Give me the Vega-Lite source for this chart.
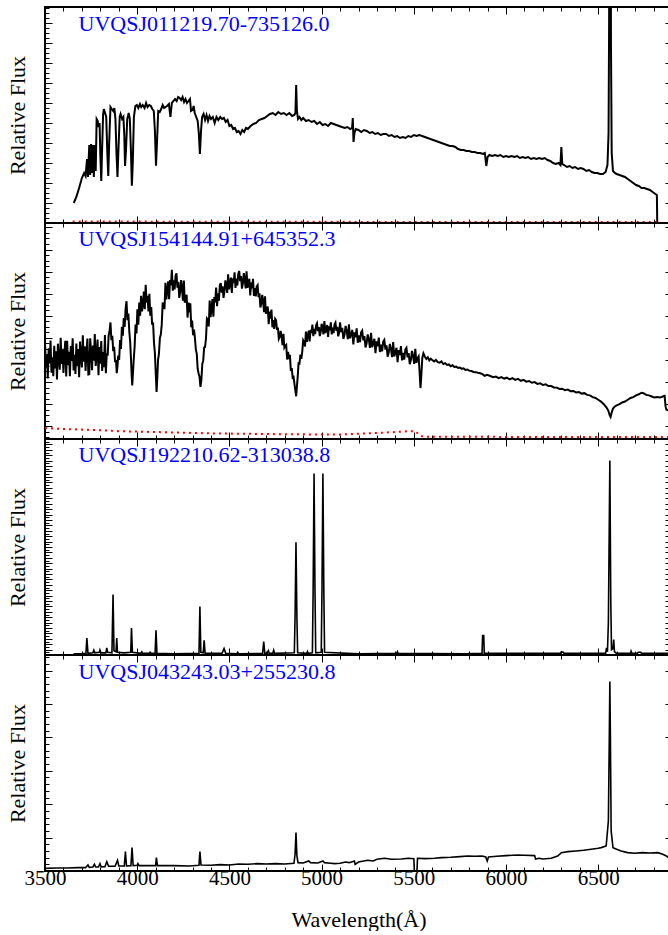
{
  "$schema": "https://vega.github.io/schema/vega-lite/v6.json",
  "padding": {"top": 5, "left": 5, "right": -4, "bottom": 0},
  "spacing": 0,
  "bounds": "flush",
  "config": {
    "view": {"stroke": "black", "strokeWidth": 2},
    "font": "Times New Roman, Liberation Serif, DejaVu Serif, serif",
    "axis": {"domain": false, "grid": false, "tickColor": "black", "tickWidth": 1, "labelFont": "Times New Roman, Liberation Serif, DejaVu Serif, serif", "titleFont": "Times New Roman, Liberation Serif, DejaVu Serif, serif", "labelFontSize": 21, "titleFontSize": 22, "titleFontWeight": "normal", "labelColor": "black", "titleColor": "black", "labelFlush": false, "labelBound": false, "labelOverlap": false}
  },
  "datasets": {
    "p1": [
      {"wavelength":3656,"flux":1.0},{"wavelength":3670,"flux":1.3},{"wavelength":3685,"flux":1.75},{"wavelength":3700,"flux":2.25},{"wavelength":3712,"flux":2.5},{"wavelength":3720,"flux":2.35},{"wavelength":3728,"flux":3.2},{"wavelength":3733,"flux":2.3},{"wavelength":3740,"flux":3.9},{"wavelength":3745,"flux":2.4},{"wavelength":3750,"flux":3.95},{"wavelength":3755,"flux":2.5},{"wavelength":3760,"flux":3.9},{"wavelength":3765,"flux":2.3},{"wavelength":3770,"flux":3.9},{"wavelength":3775,"flux":2.6},{"wavelength":3780,"flux":5.2},{"wavelength":3786,"flux":5.1},{"wavelength":3790,"flux":4.8},{"wavelength":3796,"flux":5.0},{"wavelength":3800,"flux":3.4},{"wavelength":3805,"flux":2.1},{"wavelength":3810,"flux":3.8},{"wavelength":3815,"flux":5.4},{"wavelength":3819,"flux":5.7},{"wavelength":3826,"flux":5.5},{"wavelength":3832,"flux":5.3},{"wavelength":3838,"flux":3.5},{"wavelength":3843,"flux":2.35},{"wavelength":3848,"flux":4.0},{"wavelength":3855,"flux":5.8},{"wavelength":3862,"flux":5.7},{"wavelength":3870,"flux":5.6},{"wavelength":3876,"flux":5.75},{"wavelength":3882,"flux":5.2},{"wavelength":3888,"flux":3.4},{"wavelength":3893,"flux":2.3},{"wavelength":3898,"flux":3.6},{"wavelength":3905,"flux":5.3},{"wavelength":3910,"flux":5.45},{"wavelength":3918,"flux":5.2},{"wavelength":3925,"flux":5.3},{"wavelength":3930,"flux":4.4},{"wavelength":3934,"flux":2.85},{"wavelength":3939,"flux":3.6},{"wavelength":3946,"flux":5.2},{"wavelength":3954,"flux":5.5},{"wavelength":3960,"flux":5.2},{"wavelength":3966,"flux":3.6},{"wavelength":3971,"flux":1.87},{"wavelength":3976,"flux":3.0},{"wavelength":3982,"flux":5.3},{"wavelength":3990,"flux":5.85},{"wavelength":3998,"flux":5.9},{"wavelength":4006,"flux":5.75},{"wavelength":4015,"flux":5.95},{"wavelength":4022,"flux":5.8},{"wavelength":4030,"flux":5.9},{"wavelength":4040,"flux":5.75},{"wavelength":4048,"flux":6.0},{"wavelength":4056,"flux":5.8},{"wavelength":4065,"flux":5.9},{"wavelength":4074,"flux":5.85},{"wavelength":4082,"flux":5.7},{"wavelength":4090,"flux":5.6},{"wavelength":4096,"flux":4.6},{"wavelength":4102,"flux":2.87},{"wavelength":4108,"flux":4.2},{"wavelength":4114,"flux":5.6},{"wavelength":4122,"flux":5.55},{"wavelength":4130,"flux":5.7},{"wavelength":4138,"flux":5.9},{"wavelength":4146,"flux":5.75},{"wavelength":4154,"flux":5.8},{"wavelength":4162,"flux":5.85},{"wavelength":4172,"flux":5.95},{"wavelength":4180,"flux":5.3},{"wavelength":4188,"flux":6.0},{"wavelength":4196,"flux":6.1},{"wavelength":4205,"flux":6.2},{"wavelength":4214,"flux":6.1},{"wavelength":4222,"flux":6.3},{"wavelength":4230,"flux":6.25},{"wavelength":4238,"flux":6.15},{"wavelength":4246,"flux":6.3},{"wavelength":4254,"flux":6.05},{"wavelength":4262,"flux":6.2},{"wavelength":4270,"flux":6.0},{"wavelength":4278,"flux":6.1},{"wavelength":4286,"flux":6.2},{"wavelength":4292,"flux":5.6},{"wavelength":4300,"flux":5.65},{"wavelength":4306,"flux":5.85},{"wavelength":4312,"flux":5.5},{"wavelength":4320,"flux":5.3},{"wavelength":4328,"flux":5.1},{"wavelength":4334,"flux":4.5},{"wavelength":4340,"flux":3.45},{"wavelength":4346,"flux":4.6},{"wavelength":4352,"flux":5.3},{"wavelength":4360,"flux":5.45},{"wavelength":4368,"flux":5.15},{"wavelength":4376,"flux":5.4},{"wavelength":4384,"flux":5.1},{"wavelength":4392,"flux":5.35},{"wavelength":4400,"flux":5.2},{"wavelength":4410,"flux":5.3},{"wavelength":4420,"flux":5.0},{"wavelength":4430,"flux":5.3},{"wavelength":4440,"flux":5.15},{"wavelength":4450,"flux":5.3},{"wavelength":4460,"flux":5.2},{"wavelength":4470,"flux":5.25},{"wavelength":4480,"flux":5.05},{"wavelength":4490,"flux":5.15},{"wavelength":4500,"flux":4.85},{"wavelength":4510,"flux":4.9},{"wavelength":4520,"flux":4.7},{"wavelength":4530,"flux":4.75},{"wavelength":4540,"flux":4.55},{"wavelength":4550,"flux":4.6},{"wavelength":4560,"flux":4.45},{"wavelength":4570,"flux":4.65},{"wavelength":4580,"flux":4.55},{"wavelength":4590,"flux":4.75},{"wavelength":4600,"flux":4.7},{"wavelength":4615,"flux":4.85},{"wavelength":4630,"flux":4.95},{"wavelength":4645,"flux":5.0},{"wavelength":4660,"flux":5.15},{"wavelength":4675,"flux":5.2},{"wavelength":4690,"flux":5.25},{"wavelength":4705,"flux":5.35},{"wavelength":4720,"flux":5.45},{"wavelength":4735,"flux":5.5},{"wavelength":4750,"flux":5.4},{"wavelength":4765,"flux":5.55},{"wavelength":4780,"flux":5.45},{"wavelength":4795,"flux":5.5},{"wavelength":4810,"flux":5.4},{"wavelength":4825,"flux":5.5},{"wavelength":4840,"flux":5.35},{"wavelength":4852,"flux":5.4},{"wavelength":4858,"flux":5.5},{"wavelength":4862,"flux":6.9},{"wavelength":4866,"flux":5.6},{"wavelength":4872,"flux":5.2},{"wavelength":4880,"flux":5.3},{"wavelength":4890,"flux":5.15},{"wavelength":4900,"flux":5.25},{"wavelength":4915,"flux":5.1},{"wavelength":4930,"flux":5.15},{"wavelength":4945,"flux":5.05},{"wavelength":4960,"flux":5.1},{"wavelength":4975,"flux":4.95},{"wavelength":4990,"flux":5.05},{"wavelength":5005,"flux":4.9},{"wavelength":5020,"flux":4.95},{"wavelength":5035,"flux":4.85},{"wavelength":5050,"flux":5.0},{"wavelength":5065,"flux":4.95},{"wavelength":5080,"flux":4.9},{"wavelength":5095,"flux":4.85},{"wavelength":5110,"flux":4.8},{"wavelength":5125,"flux":4.75},{"wavelength":5140,"flux":4.8},{"wavelength":5155,"flux":4.7},{"wavelength":5165,"flux":4.75},{"wavelength":5169,"flux":5.25},{"wavelength":5173,"flux":4.05},{"wavelength":5178,"flux":4.5},{"wavelength":5185,"flux":4.7},{"wavelength":5200,"flux":4.65},{"wavelength":5215,"flux":4.55},{"wavelength":5230,"flux":4.65},{"wavelength":5245,"flux":4.6},{"wavelength":5260,"flux":4.5},{"wavelength":5275,"flux":4.55},{"wavelength":5290,"flux":4.45},{"wavelength":5305,"flux":4.5},{"wavelength":5320,"flux":4.4},{"wavelength":5335,"flux":4.45},{"wavelength":5350,"flux":4.45},{"wavelength":5365,"flux":4.35},{"wavelength":5380,"flux":4.4},{"wavelength":5395,"flux":4.3},{"wavelength":5410,"flux":4.35},{"wavelength":5425,"flux":4.25},{"wavelength":5440,"flux":4.3},{"wavelength":5455,"flux":4.25},{"wavelength":5470,"flux":4.35},{"wavelength":5485,"flux":4.3},{"wavelength":5500,"flux":4.4},{"wavelength":5515,"flux":4.35},{"wavelength":5530,"flux":4.4},{"wavelength":5545,"flux":4.35},{"wavelength":5560,"flux":4.3},{"wavelength":5575,"flux":4.25},{"wavelength":5590,"flux":4.2},{"wavelength":5605,"flux":4.15},{"wavelength":5620,"flux":4.1},{"wavelength":5635,"flux":4.05},{"wavelength":5650,"flux":4.0},{"wavelength":5665,"flux":3.95},{"wavelength":5680,"flux":3.9},{"wavelength":5695,"flux":3.85},{"wavelength":5710,"flux":3.85},{"wavelength":5725,"flux":3.8},{"wavelength":5740,"flux":3.7},{"wavelength":5755,"flux":3.65},{"wavelength":5770,"flux":3.65},{"wavelength":5785,"flux":3.6},{"wavelength":5800,"flux":3.6},{"wavelength":5815,"flux":3.55},{"wavelength":5830,"flux":3.55},{"wavelength":5845,"flux":3.5},{"wavelength":5860,"flux":3.5},{"wavelength":5875,"flux":3.45},{"wavelength":5885,"flux":3.5},{"wavelength":5893,"flux":2.85},{"wavelength":5900,"flux":3.3},{"wavelength":5910,"flux":3.4},{"wavelength":5925,"flux":3.35},{"wavelength":5940,"flux":3.4},{"wavelength":5955,"flux":3.35},{"wavelength":5970,"flux":3.4},{"wavelength":5985,"flux":3.3},{"wavelength":6000,"flux":3.35},{"wavelength":6015,"flux":3.3},{"wavelength":6030,"flux":3.35},{"wavelength":6045,"flux":3.3},{"wavelength":6060,"flux":3.35},{"wavelength":6075,"flux":3.25},{"wavelength":6090,"flux":3.3},{"wavelength":6105,"flux":3.25},{"wavelength":6120,"flux":3.3},{"wavelength":6135,"flux":3.2},{"wavelength":6150,"flux":3.25},{"wavelength":6165,"flux":3.2},{"wavelength":6180,"flux":3.25},{"wavelength":6195,"flux":3.2},{"wavelength":6210,"flux":3.25},{"wavelength":6225,"flux":3.15},{"wavelength":6240,"flux":3.1},{"wavelength":6255,"flux":3.0},{"wavelength":6270,"flux":2.95},{"wavelength":6285,"flux":3.0},{"wavelength":6295,"flux":2.9},{"wavelength":6300,"flux":3.8},{"wavelength":6305,"flux":2.95},{"wavelength":6315,"flux":2.9},{"wavelength":6330,"flux":2.8},{"wavelength":6345,"flux":2.85},{"wavelength":6360,"flux":2.75},{"wavelength":6375,"flux":2.8},{"wavelength":6390,"flux":2.7},{"wavelength":6405,"flux":2.75},{"wavelength":6420,"flux":2.7},{"wavelength":6435,"flux":2.6},{"wavelength":6450,"flux":2.65},{"wavelength":6465,"flux":2.55},{"wavelength":6480,"flux":2.5},{"wavelength":6495,"flux":2.5},{"wavelength":6510,"flux":2.45},{"wavelength":6525,"flux":2.45},{"wavelength":6540,"flux":2.55},{"wavelength":6550,"flux":2.9},{"wavelength":6556,"flux":4.5},{"wavelength":6559,"flux":10},{"wavelength":6561,"flux":30},{"wavelength":6566,"flux":30},{"wavelength":6569,"flux":9},{"wavelength":6573,"flux":3.5},{"wavelength":6580,"flux":2.6},{"wavelength":6590,"flux":2.5},{"wavelength":6600,"flux":2.45},{"wavelength":6615,"flux":2.4},{"wavelength":6630,"flux":2.35},{"wavelength":6645,"flux":2.3},{"wavelength":6660,"flux":2.2},{"wavelength":6675,"flux":2.1},{"wavelength":6690,"flux":2.0},{"wavelength":6705,"flux":1.9},{"wavelength":6720,"flux":1.85},{"wavelength":6735,"flux":1.75},{"wavelength":6750,"flux":1.75},{"wavelength":6765,"flux":1.7},{"wavelength":6780,"flux":1.65},{"wavelength":6795,"flux":1.55},{"wavelength":6810,"flux":1.45},{"wavelength":6818,"flux":1.4},{"wavelength":6820,"flux":0}
    ],
    "p1e": [
      {"wavelength":3650,"flux":0.08},{"wavelength":4000,"flux":0.07},{"wavelength":4500,"flux":0.06},{"wavelength":5000,"flux":0.06},{"wavelength":5500,"flux":0.05},{"wavelength":6000,"flux":0.05},{"wavelength":6500,"flux":0.05},{"wavelength":6820,"flux":0.05}
    ],
    "p2": [
      {"wavelength":3500,"flux":3.77},{"wavelength":3505,"flux":2.66},{"wavelength":3510,"flux":3.27},{"wavelength":3515,"flux":2.16},{"wavelength":3520,"flux":3.53},{"wavelength":3525,"flux":2.85},{"wavelength":3530,"flux":3.88},{"wavelength":3535,"flux":2.43},{"wavelength":3540,"flux":3.12},{"wavelength":3545,"flux":2.27},{"wavelength":3550,"flux":3.64},{"wavelength":3555,"flux":2.62},{"wavelength":3560,"flux":3.39},{"wavelength":3565,"flux":2.12},{"wavelength":3570,"flux":3.74},{"wavelength":3575,"flux":3.07},{"wavelength":3580,"flux":2.56},{"wavelength":3585,"flux":4.01},{"wavelength":3590,"flux":2.82},{"wavelength":3595,"flux":3.51},{"wavelength":3600,"flux":2.41},{"wavelength":3605,"flux":3.26},{"wavelength":3610,"flux":3.87},{"wavelength":3615,"flux":2.25},{"wavelength":3620,"flux":3.87},{"wavelength":3625,"flux":2.77},{"wavelength":3630,"flux":3.37},{"wavelength":3635,"flux":2.27},{"wavelength":3640,"flux":3.63},{"wavelength":3645,"flux":2.96},{"wavelength":3650,"flux":3.98},{"wavelength":3655,"flux":2.53},{"wavelength":3660,"flux":3.23},{"wavelength":3665,"flux":2.37},{"wavelength":3670,"flux":3.75},{"wavelength":3675,"flux":2.72},{"wavelength":3680,"flux":3.5},{"wavelength":3685,"flux":2.22},{"wavelength":3690,"flux":3.84},{"wavelength":3695,"flux":3.17},{"wavelength":3700,"flux":2.66},{"wavelength":3705,"flux":4.12},{"wavelength":3710,"flux":2.92},{"wavelength":3715,"flux":3.62},{"wavelength":3720,"flux":2.51},{"wavelength":3725,"flux":3.37},{"wavelength":3730,"flux":3.97},{"wavelength":3735,"flux":2.35},{"wavelength":3740,"flux":2.36},{"wavelength":3745,"flux":3.98},{"wavelength":3750,"flux":3.39},{"wavelength":3755,"flux":2.54},{"wavelength":3760,"flux":3.65},{"wavelength":3765,"flux":2.97},{"wavelength":3770,"flux":4.17},{"wavelength":3775,"flux":2.73},{"wavelength":3780,"flux":3.24},{"wavelength":3785,"flux":3.93},{"wavelength":3790,"flux":2.31},{"wavelength":3795,"flux":3.59},{"wavelength":3800,"flux":2.83},{"wavelength":3805,"flux":3.86},{"wavelength":3810,"flux":2.5},{"wavelength":3815,"flux":3.36},{"wavelength":3820,"flux":2.68},{"wavelength":3825,"flux":4.13},{"wavelength":3830,"flux":2.4},{"wavelength":3835,"flux":3.3},{"wavelength":3840,"flux":3.2},{"wavelength":3845,"flux":4.1},
      {"wavelength":3850,"flux":4.3},{"wavelength":3855,"flux":4.7},{"wavelength":3860,"flux":3.9},{"wavelength":3865,"flux":4.1},{"wavelength":3870,"flux":3.4},{"wavelength":3875,"flux":3.6},{"wavelength":3880,"flux":2.9},{"wavelength":3885,"flux":3.0},{"wavelength":3889,"flux":2.4},{"wavelength":3893,"flux":2.7},{"wavelength":3897,"flux":3.2},{"wavelength":3902,"flux":3.0},{"wavelength":3907,"flux":3.9},{"wavelength":3912,"flux":3.5},{"wavelength":3917,"flux":4.5},{"wavelength":3922,"flux":4.1},{"wavelength":3927,"flux":4.9},{"wavelength":3932,"flux":4.5},{"wavelength":3937,"flux":5.3},{"wavelength":3942,"flux":5.66},{"wavelength":3947,"flux":4.8},{"wavelength":3952,"flux":5.1},{"wavelength":3957,"flux":4.3},{"wavelength":3962,"flux":3.8},{"wavelength":3966,"flux":3.1},{"wavelength":3970,"flux":2.3},{"wavelength":3973,"flux":1.85},{"wavelength":3977,"flux":2.4},{"wavelength":3981,"flux":3.0},{"wavelength":3986,"flux":3.6},{"wavelength":3991,"flux":4.6},{"wavelength":3996,"flux":4.2},{"wavelength":4001,"flux":5.3},{"wavelength":4006,"flux":4.6},{"wavelength":4011,"flux":5.6},{"wavelength":4016,"flux":5.0},{"wavelength":4021,"flux":5.9},{"wavelength":4026,"flux":5.2},{"wavelength":4031,"flux":5.5},{"wavelength":4036,"flux":6.1},{"wavelength":4041,"flux":5.3},{"wavelength":4046,"flux":6.4},{"wavelength":4051,"flux":5.6},{"wavelength":4056,"flux":5.9},{"wavelength":4061,"flux":5.2},{"wavelength":4066,"flux":6.0},{"wavelength":4071,"flux":5.0},{"wavelength":4076,"flux":5.4},{"wavelength":4081,"flux":4.6},{"wavelength":4086,"flux":4.7},{"wavelength":4091,"flux":3.8},{"wavelength":4096,"flux":3.3},{"wavelength":4100,"flux":2.5},{"wavelength":4105,"flux":1.55},{"wavelength":4109,"flux":2.2},
      {"wavelength":4113,"flux":3.0},{"wavelength":4118,"flux":3.3},{"wavelength":4123,"flux":4.0},{"wavelength":4128,"flux":4.15},{"wavelength":4133,"flux":4.6},{"wavelength":4138,"flux":5.56},{"wavelength":4143,"flux":5.55},{"wavelength":4148,"flux":5.3},{"wavelength":4153,"flux":6.49},{"wavelength":4158,"flux":5.74},{"wavelength":4163,"flux":6.16},{"wavelength":4168,"flux":6.56},{"wavelength":4173,"flux":5.75},{"wavelength":4178,"flux":6.62},{"wavelength":4183,"flux":6.38},{"wavelength":4188,"flux":7.08},{"wavelength":4193,"flux":6.14},{"wavelength":4198,"flux":6.61},{"wavelength":4203,"flux":6.19},{"wavelength":4208,"flux":6.81},{"wavelength":4213,"flux":6.92},{"wavelength":4218,"flux":6.27},{"wavelength":4223,"flux":6.54},{"wavelength":4228,"flux":5.81},{"wavelength":4233,"flux":6.07},{"wavelength":4238,"flux":6.62},{"wavelength":4243,"flux":6.26},{"wavelength":4248,"flux":5.68},{"wavelength":4253,"flux":6.6},{"wavelength":4258,"flux":5.59},{"wavelength":4263,"flux":5.78},{"wavelength":4268,"flux":5.95},{"wavelength":4273,"flux":4.92},{"wavelength":4278,"flux":5.6},{"wavelength":4283,"flux":5.15},{"wavelength":4288,"flux":5.57},{"wavelength":4293,"flux":4.48},{"wavelength":4298,"flux":4.78},{"wavelength":4303,"flux":4.12},{"wavelength":4308,"flux":4.37},{"wavelength":4313,"flux":4.0},{"wavelength":4318,"flux":3.47},{"wavelength":4323,"flux":3.29},{"wavelength":4328,"flux":2.59},{"wavelength":4333,"flux":2.39},{"wavelength":4338,"flux":2.24},{"wavelength":4343,"flux":1.78},{"wavelength":4348,"flux":2.1},{"wavelength":4353,"flux":2.82},{"wavelength":4358,"flux":2.97},{"wavelength":4363,"flux":3.57},{"wavelength":4368,"flux":3.59},{"wavelength":4373,"flux":3.98},{"wavelength":4378,"flux":4.88},{"wavelength":4383,"flux":4.82},{"wavelength":4388,"flux":4.52},{"wavelength":4393,"flux":5.69},{"wavelength":4398,"flux":4.94},{"wavelength":4403,"flux":5.35},{"wavelength":4408,"flux":5.76},{"wavelength":4413,"flux":4.96},{"wavelength":4418,"flux":5.85},{"wavelength":4423,"flux":5.61},{"wavelength":4428,"flux":6.28},{"wavelength":4433,"flux":5.44},{"wavelength":4438,"flux":6.02},{"wavelength":4443,"flux":5.68},{"wavelength":4448,"flux":6.38},{"wavelength":4453,"flux":6.48},{"wavelength":4458,"flux":6.05},{"wavelength":4463,"flux":6.33},{"wavelength":4468,"flux":5.81},{"wavelength":4473,"flux":6.09},{"wavelength":4478,"flux":6.6},{"wavelength":4483,"flux":6.4},{"wavelength":4488,"flux":6.04},{"wavelength":4493,"flux":6.88},{"wavelength":4498,"flux":6.2},{"wavelength":4503,"flux":6.47},{"wavelength":4508,"flux":6.73},{"wavelength":4513,"flux":6.04},{"wavelength":4518,"flux":6.7},{"wavelength":4523,"flux":6.48},{"wavelength":4528,"flux":6.97},{"wavelength":4533,"flux":6.26},{"wavelength":4538,"flux":6.68},{"wavelength":4543,"flux":6.37},{"wavelength":4548,"flux":6.9},{"wavelength":4553,"flux":7.03},{"wavelength":4558,"flux":6.57},{"wavelength":4563,"flux":6.8},{"wavelength":4568,"flux":6.23},{"wavelength":4573,"flux":6.46},{"wavelength":4578,"flux":6.93},{"wavelength":4583,"flux":6.66},{"wavelength":4588,"flux":6.24},{"wavelength":4593,"flux":7.01},{"wavelength":4598,"flux":6.27},{"wavelength":4603,"flux":6.48},{"wavelength":4608,"flux":6.68},{"wavelength":4613,"flux":5.92},{"wavelength":4618,"flux":6.52},{"wavelength":4623,"flux":6.24},{"wavelength":4628,"flux":6.67},{"wavelength":4633,"flux":5.9},{"wavelength":4638,"flux":6.25},{"wavelength":4643,"flux":5.88},{"wavelength":4648,"flux":6.33},{"wavelength":4653,"flux":6.39},{"wavelength":4658,"flux":5.84},{"wavelength":4663,"flux":6.02},{"wavelength":4668,"flux":5.38},{"wavelength":4673,"flux":5.54},{"wavelength":4678,"flux":5.95},{"wavelength":4683,"flux":5.63},{"wavelength":4688,"flux":5.16},{"wavelength":4693,"flux":5.88},{"wavelength":4698,"flux":5.09},{"wavelength":4703,"flux":5.25},{"wavelength":4708,"flux":5.42},{"wavelength":4713,"flux":4.62},{"wavelength":4718,"flux":5.19},{"wavelength":4723,"flux":4.87},{"wavelength":4728,"flux":5.28},{"wavelength":4733,"flux":4.48},{"wavelength":4738,"flux":4.81},{"wavelength":4743,"flux":4.41},{"wavelength":4748,"flux":4.86},{"wavelength":4753,"flux":4.8},{"wavelength":4758,"flux":4.36},{"wavelength":4763,"flux":4.47},{"wavelength":4768,"flux":3.96},{"wavelength":4773,"flux":4.05},{"wavelength":4778,"flux":4.32},{"wavelength":4783,"flux":4.06},{"wavelength":4788,"flux":3.67},{"wavelength":4793,"flux":4.18},{"wavelength":4798,"flux":3.56},{"wavelength":4803,"flux":3.63},{"wavelength":4808,"flux":3.68},{"wavelength":4813,"flux":3.02},{"wavelength":4818,"flux":3.37},{"wavelength":4823,"flux":3.04},{"wavelength":4828,"flux":3.23},{"wavelength":4833,"flux":2.51},{"wavelength":4838,"flux":2.63},{"wavelength":4843,"flux":2.2},{"wavelength":4848,"flux":2.23},{"wavelength":4853,"flux":1.9},{"wavelength":4857,"flux":1.65},{"wavelength":4862,"flux":1.36},
      {"wavelength":4866,"flux":1.8},{"wavelength":4870,"flux":2.2},{"wavelength":4875,"flux":2.85},{"wavelength":4880,"flux":2.84},{"wavelength":4885,"flux":3.24},{"wavelength":4890,"flux":3.05},{"wavelength":4895,"flux":3.38},{"wavelength":4900,"flux":3.89},{"wavelength":4905,"flux":3.81},{"wavelength":4910,"flux":3.61},{"wavelength":4915,"flux":4.29},{"wavelength":4920,"flux":3.82},{"wavelength":4925,"flux":4.08},{"wavelength":4930,"flux":4.33},{"wavelength":4935,"flux":3.84},{"wavelength":4940,"flux":4.37},{"wavelength":4945,"flux":4.22},{"wavelength":4950,"flux":4.6},{"wavelength":4955,"flux":4.08},{"wavelength":4960,"flux":4.41},{"wavelength":4965,"flux":4.17},{"wavelength":4970,"flux":4.57},{"wavelength":4975,"flux":4.66},{"wavelength":4980,"flux":4.31},{"wavelength":4985,"flux":4.49},{"wavelength":4990,"flux":4.08},{"wavelength":4995,"flux":4.26},{"wavelength":5000,"flux":4.64},{"wavelength":5005,"flux":4.46},{"wavelength":5010,"flux":4.16},{"wavelength":5015,"flux":4.76},{"wavelength":5020,"flux":4.22},{"wavelength":5025,"flux":4.4},{"wavelength":5030,"flux":4.58},{"wavelength":5035,"flux":4.04},{"wavelength":5040,"flux":4.52},{"wavelength":5045,"flux":4.34},{"wavelength":5050,"flux":4.7},{"wavelength":5055,"flux":4.16},{"wavelength":5060,"flux":4.46},{"wavelength":5065,"flux":4.22},{"wavelength":5070,"flux":4.61},{"wavelength":5075,"flux":4.69},{"wavelength":5080,"flux":4.32},{"wavelength":5085,"flux":4.5},{"wavelength":5090,"flux":4.07},{"wavelength":5095,"flux":4.24},
      {"wavelength":5100,"flux":4.7},{"wavelength":5106,"flux":4.26},{"wavelength":5112,"flux":4.45},{"wavelength":5118,"flux":3.95},{"wavelength":5124,"flux":4.14},{"wavelength":5130,"flux":4.54},{"wavelength":5136,"flux":4.31},{"wavelength":5142,"flux":3.94},{"wavelength":5148,"flux":4.62},{"wavelength":5154,"flux":3.98},{"wavelength":5160,"flux":4.17},{"wavelength":5166,"flux":4.36},{"wavelength":5172,"flux":3.71},{"wavelength":5178,"flux":4.25},{"wavelength":5184,"flux":4.03},{"wavelength":5190,"flux":4.43},{"wavelength":5196,"flux":3.78},{"wavelength":5202,"flux":4.11},{"wavelength":5208,"flux":3.81},{"wavelength":5214,"flux":4.25},{"wavelength":5220,"flux":4.33},{"wavelength":5226,"flux":3.89},{"wavelength":5232,"flux":4.08},{"wavelength":5238,"flux":3.57},{"wavelength":5244,"flux":3.76},{"wavelength":5250,"flux":4.16},{"wavelength":5256,"flux":3.93},{"wavelength":5262,"flux":3.55},{"wavelength":5268,"flux":4.23},{"wavelength":5274,"flux":3.58},{"wavelength":5280,"flux":3.77},{"wavelength":5286,"flux":3.96},{"wavelength":5292,"flux":3.31},{"wavelength":5298,"flux":3.85},{"wavelength":5304,"flux":3.62},{"wavelength":5310,"flux":4.01},{"wavelength":5316,"flux":3.36},{"wavelength":5322,"flux":3.69},{"wavelength":5328,"flux":3.39},{"wavelength":5334,"flux":3.83},{"wavelength":5340,"flux":3.91},{"wavelength":5346,"flux":3.47},{"wavelength":5352,"flux":3.66},{"wavelength":5358,"flux":3.15},{"wavelength":5364,"flux":3.34},{"wavelength":5370,"flux":3.73},{"wavelength":5376,"flux":3.5},{"wavelength":5382,"flux":3.13},{"wavelength":5388,"flux":3.81},{"wavelength":5394,"flux":3.16},{"wavelength":5400,"flux":3.35},{"wavelength":5406,"flux":3.55},{"wavelength":5412,"flux":2.9},{"wavelength":5418,"flux":3.45},{"wavelength":5424,"flux":3.22},{"wavelength":5430,"flux":3.63},{"wavelength":5436,"flux":2.98},{"wavelength":5442,"flux":3.32},{"wavelength":5448,"flux":3.02},{"wavelength":5454,"flux":3.47},{"wavelength":5460,"flux":3.55},{"wavelength":5466,"flux":3.12},{"wavelength":5472,"flux":3.31},{"wavelength":5478,"flux":2.81},{"wavelength":5484,"flux":3.0},{"wavelength":5490,"flux":3.41},{"wavelength":5496,"flux":3.18},{"wavelength":5502,"flux":2.82},{"wavelength":5508,"flux":3.51},{"wavelength":5514,"flux":2.87},{"wavelength":5520,"flux":3.07},{"wavelength":5526,"flux":3.16},{"wavelength":5531,"flux":2.5},{"wavelength":5536,"flux":1.73},{"wavelength":5540,"flux":2.2},{"wavelength":5546,"flux":3.1},{"wavelength":5552,"flux":3.3},
      {"wavelength":5560,"flux":3.15},{"wavelength":5568,"flux":3.05},{"wavelength":5576,"flux":3.12},{"wavelength":5584,"flux":2.98},{"wavelength":5592,"flux":3.06},{"wavelength":5600,"flux":3.0},{"wavelength":5610,"flux":2.93},{"wavelength":5620,"flux":3.0},{"wavelength":5630,"flux":2.9},{"wavelength":5640,"flux":2.88},{"wavelength":5650,"flux":2.94},{"wavelength":5660,"flux":2.82},{"wavelength":5670,"flux":2.86},{"wavelength":5680,"flux":2.78},{"wavelength":5690,"flux":2.8},{"wavelength":5700,"flux":2.72},{"wavelength":5710,"flux":2.76},{"wavelength":5720,"flux":2.68},{"wavelength":5730,"flux":2.7},{"wavelength":5740,"flux":2.64},{"wavelength":5750,"flux":2.66},{"wavelength":5760,"flux":2.6},{"wavelength":5770,"flux":2.62},{"wavelength":5780,"flux":2.55},{"wavelength":5790,"flux":2.57},{"wavelength":5800,"flux":2.52},{"wavelength":5812,"flux":2.5},{"wavelength":5824,"flux":2.46},{"wavelength":5836,"flux":2.45},{"wavelength":5848,"flux":2.42},{"wavelength":5860,"flux":2.4},{"wavelength":5872,"flux":2.36},{"wavelength":5884,"flux":2.28},{"wavelength":5896,"flux":2.33},{"wavelength":5908,"flux":2.3},{"wavelength":5930,"flux":2.22},{"wavelength":5945,"flux":2.25},{"wavelength":5960,"flux":2.18},{"wavelength":5975,"flux":2.23},{"wavelength":5990,"flux":2.16},{"wavelength":6005,"flux":2.2},{"wavelength":6020,"flux":2.12},{"wavelength":6035,"flux":2.18},{"wavelength":6050,"flux":2.1},{"wavelength":6065,"flux":2.15},{"wavelength":6080,"flux":2.06},{"wavelength":6095,"flux":2.1},{"wavelength":6110,"flux":2.02},{"wavelength":6125,"flux":2.05},{"wavelength":6140,"flux":1.97},{"wavelength":6155,"flux":2.0},{"wavelength":6170,"flux":1.92},{"wavelength":6185,"flux":1.95},{"wavelength":6200,"flux":1.87},{"wavelength":6215,"flux":1.9},{"wavelength":6230,"flux":1.82},{"wavelength":6245,"flux":1.82},{"wavelength":6260,"flux":1.76},{"wavelength":6275,"flux":1.75},{"wavelength":6290,"flux":1.69},{"wavelength":6305,"flux":1.7},{"wavelength":6320,"flux":1.63},{"wavelength":6335,"flux":1.66},{"wavelength":6350,"flux":1.59},{"wavelength":6365,"flux":1.6},{"wavelength":6380,"flux":1.53},{"wavelength":6395,"flux":1.55},{"wavelength":6410,"flux":1.48},{"wavelength":6425,"flux":1.5},{"wavelength":6440,"flux":1.42},{"wavelength":6455,"flux":1.4},{"wavelength":6470,"flux":1.32},{"wavelength":6485,"flux":1.28},{"wavelength":6500,"flux":1.2},{"wavelength":6515,"flux":1.12},{"wavelength":6530,"flux":1.0},{"wavelength":6545,"flux":0.85},{"wavelength":6555,"flux":0.7},{"wavelength":6562,"flux":0.5},{"wavelength":6567,"flux":0.42},{"wavelength":6572,"flux":0.6},{"wavelength":6580,"flux":0.8},{"wavelength":6590,"flux":0.9},{"wavelength":6600,"flux":0.95},{"wavelength":6615,"flux":1.0},{"wavelength":6630,"flux":1.08},{"wavelength":6645,"flux":1.12},{"wavelength":6660,"flux":1.2},{"wavelength":6675,"flux":1.28},{"wavelength":6690,"flux":1.32},{"wavelength":6705,"flux":1.4},{"wavelength":6720,"flux":1.45},{"wavelength":6735,"flux":1.52},{"wavelength":6745,"flux":1.5},{"wavelength":6760,"flux":1.42},{"wavelength":6775,"flux":1.4},{"wavelength":6790,"flux":1.35},{"wavelength":6805,"flux":1.3},{"wavelength":6820,"flux":1.32},{"wavelength":6835,"flux":1.3},{"wavelength":6850,"flux":1.35},{"wavelength":6860,"flux":1.38},{"wavelength":6865,"flux":0.9},{"wavelength":6870,"flux":0.75},{"wavelength":6880,"flux":0.72}
    ],
    "p2e": [
      {"wavelength":3500,"flux":-0.08},{"wavelength":3600,"flux":-0.12},{"wavelength":3700,"flux":-0.15},{"wavelength":3800,"flux":-0.18},{"wavelength":3900,"flux":-0.22},{"wavelength":4000,"flux":-0.24},{"wavelength":4200,"flux":-0.28},{"wavelength":4400,"flux":-0.32},{"wavelength":4600,"flux":-0.34},{"wavelength":4800,"flux":-0.36},{"wavelength":5000,"flux":-0.37},{"wavelength":5100,"flux":-0.37},{"wavelength":5200,"flux":-0.34},{"wavelength":5300,"flux":-0.3},{"wavelength":5400,"flux":-0.26},{"wavelength":5480,"flux":-0.22},{"wavelength":5510,"flux":-0.23},{"wavelength":5530,"flux":-0.4},{"wavelength":5550,"flux":-0.47},{"wavelength":6000,"flux":-0.48},{"wavelength":6500,"flux":-0.49},{"wavelength":6880,"flux":-0.49}
    ],
    "p3": [
      {"wavelength":3655,"flux":0.2},{"wavelength":3700,"flux":0.25},{"wavelength":3722,"flux":0.3},{"wavelength":3727,"flux":3.15},{"wavelength":3733,"flux":0.3},{"wavelength":3760,"flux":0.4},{"wavelength":3765,"flux":0.9},{"wavelength":3770,"flux":0.4},{"wavelength":3795,"flux":0.5},{"wavelength":3798,"flux":0.9},{"wavelength":3803,"flux":0.4},{"wavelength":3830,"flux":0.4},{"wavelength":3835,"flux":1.3},{"wavelength":3840,"flux":0.5},{"wavelength":3863,"flux":0.4},{"wavelength":3869,"flux":11.2},{"wavelength":3874,"flux":0.8},{"wavelength":3885,"flux":0.6},{"wavelength":3889,"flux":3.15},{"wavelength":3893,"flux":0.5},{"wavelength":3930,"flux":0.4},{"wavelength":3965,"flux":0.5},{"wavelength":3969,"flux":5.0},{"wavelength":3974,"flux":0.5},{"wavelength":4020,"flux":0.3},{"wavelength":4025,"flux":0.6},{"wavelength":4030,"flux":0.3},{"wavelength":4065,"flux":0.3},{"wavelength":4070,"flux":0.5},{"wavelength":4075,"flux":0.3},{"wavelength":4097,"flux":0.3},{"wavelength":4102,"flux":4.6},{"wavelength":4107,"flux":0.3},{"wavelength":4200,"flux":0.2},{"wavelength":4335,"flux":0.3},{"wavelength":4340,"flux":9.0},{"wavelength":4345,"flux":0.5},{"wavelength":4358,"flux":0.4},{"wavelength":4363,"flux":2.7},{"wavelength":4368,"flux":0.3},{"wavelength":4460,"flux":0.3},{"wavelength":4471,"flux":1.2},{"wavelength":4480,"flux":0.3},{"wavelength":4540,"flux":0.2},{"wavelength":4545,"flux":0.5},{"wavelength":4550,"flux":0.2},{"wavelength":4680,"flux":0.3},{"wavelength":4686,"flux":2.5},{"wavelength":4692,"flux":0.3},{"wavelength":4705,"flux":0.3},{"wavelength":4711,"flux":0.8},{"wavelength":4716,"flux":0.3},{"wavelength":4735,"flux":0.3},{"wavelength":4740,"flux":0.9},{"wavelength":4745,"flux":0.3},{"wavelength":4852,"flux":0.4},{"wavelength":4856,"flux":7},{"wavelength":4861,"flux":20.9},{"wavelength":4866,"flux":7},{"wavelength":4870,"flux":0.4},{"wavelength":4920,"flux":0.3},{"wavelength":4923,"flux":0.6},{"wavelength":4926,"flux":0.3},{"wavelength":4950,"flux":0.4},{"wavelength":4954,"flux":12},{"wavelength":4959,"flux":33.6},{"wavelength":4964,"flux":12},{"wavelength":4968,"flux":0.4},{"wavelength":4998,"flux":0.5},{"wavelength":5002,"flux":12},{"wavelength":5007,"flux":33.6},{"wavelength":5012,"flux":12},{"wavelength":5016,"flux":0.5},{"wavelength":5200,"flux":0.2},{"wavelength":5407,"flux":0.3},{"wavelength":5411,"flux":0.6},{"wavelength":5415,"flux":0.3},{"wavelength":5780,"flux":0.2},{"wavelength":5870,"flux":0.3},{"wavelength":5873,"flux":3.6},{"wavelength":5879,"flux":3.6},{"wavelength":5882,"flux":0.3},{"wavelength":6295,"flux":0.3},{"wavelength":6300,"flux":0.6},{"wavelength":6310,"flux":0.5},{"wavelength":6315,"flux":0.3},{"wavelength":6540,"flux":0.3},{"wavelength":6545,"flux":1.3},{"wavelength":6550,"flux":0.6},{"wavelength":6555,"flux":6},{"wavelength":6563,"flux":36},{"wavelength":6568,"flux":10},{"wavelength":6572,"flux":1.0},{"wavelength":6580,"flux":1.2},{"wavelength":6584,"flux":2.85},{"wavelength":6588,"flux":0.6},{"wavelength":6600,"flux":0.3},{"wavelength":6675,"flux":0.3},{"wavelength":6678,"flux":0.7},{"wavelength":6682,"flux":0.3},{"wavelength":6712,"flux":0.3},{"wavelength":6717,"flux":0.5},{"wavelength":6731,"flux":0.5},{"wavelength":6735,"flux":0.3},{"wavelength":6880,"flux":0.3}
    ],
    "p4": [
      {"wavelength":3500,"flux":0.08},{"wavelength":3560,"flux":0.09},{"wavelength":3620,"flux":0.09},{"wavelength":3680,"flux":0.1},{"wavelength":3720,"flux":0.1},{"wavelength":3733,"flux":0.18},{"wavelength":3740,"flux":0.11},{"wavelength":3760,"flux":0.12},{"wavelength":3768,"flux":0.2},{"wavelength":3775,"flux":0.12},{"wavelength":3790,"flux":0.12},{"wavelength":3798,"flux":0.22},{"wavelength":3805,"flux":0.12},{"wavelength":3825,"flux":0.13},{"wavelength":3835,"flux":0.28},{"wavelength":3845,"flux":0.14},{"wavelength":3880,"flux":0.14},{"wavelength":3893,"flux":0.32},{"wavelength":3900,"flux":0.15},{"wavelength":3930,"flux":0.15},{"wavelength":3936,"flux":0.58},{"wavelength":3942,"flux":0.15},{"wavelength":3966,"flux":0.16},{"wavelength":3972,"flux":0.7},{"wavelength":3978,"flux":0.16},{"wavelength":4000,"flux":0.17},{"wavelength":4004,"flux":0.22},{"wavelength":4010,"flux":0.16},{"wavelength":4060,"flux":0.16},{"wavelength":4100,"flux":0.16},{"wavelength":4104,"flux":0.4},{"wavelength":4110,"flux":0.16},{"wavelength":4200,"flux":0.16},{"wavelength":4280,"flux":0.15},{"wavelength":4335,"flux":0.17},{"wavelength":4340,"flux":0.58},{"wavelength":4346,"flux":0.18},{"wavelength":4400,"flux":0.17},{"wavelength":4450,"flux":0.19},{"wavelength":4500,"flux":0.18},{"wavelength":4550,"flux":0.21},{"wavelength":4600,"flux":0.2},{"wavelength":4650,"flux":0.22},{"wavelength":4700,"flux":0.21},{"wavelength":4750,"flux":0.22},{"wavelength":4800,"flux":0.21},{"wavelength":4850,"flux":0.23},{"wavelength":4856,"flux":0.5},{"wavelength":4861,"flux":1.15},{"wavelength":4866,"flux":0.45},{"wavelength":4872,"flux":0.25},{"wavelength":4900,"flux":0.24},{"wavelength":4930,"flux":0.3},{"wavelength":4940,"flux":0.25},{"wavelength":4980,"flux":0.24},{"wavelength":5007,"flux":0.3},{"wavelength":5015,"flux":0.25},{"wavelength":5050,"flux":0.23},{"wavelength":5070,"flux":0.22},{"wavelength":5100,"flux":0.23},{"wavelength":5130,"flux":0.27},{"wavelength":5150,"flux":0.25},{"wavelength":5178,"flux":0.3},{"wavelength":5182,"flux":0.2},{"wavelength":5200,"flux":0.27},{"wavelength":5250,"flux":0.32},{"wavelength":5280,"flux":0.3},{"wavelength":5300,"flux":0.35},{"wavelength":5341,"flux":0.38},{"wavelength":5380,"flux":0.35},{"wavelength":5432,"flux":0.36},{"wavelength":5470,"flux":0.38},{"wavelength":5500,"flux":0.37},{"wavelength":5503,"flux":0.0},{"wavelength":5517,"flux":0.0},{"wavelength":5520,"flux":0.38},{"wavelength":5560,"flux":0.37},{"wavelength":5612,"flux":0.38},{"wavelength":5650,"flux":0.4},{"wavelength":5700,"flux":0.41},{"wavelength":5750,"flux":0.43},{"wavelength":5793,"flux":0.45},{"wavelength":5830,"flux":0.44},{"wavelength":5870,"flux":0.45},{"wavelength":5890,"flux":0.42},{"wavelength":5898,"flux":0.3},{"wavelength":5905,"flux":0.42},{"wavelength":5950,"flux":0.44},{"wavelength":6000,"flux":0.46},{"wavelength":6064,"flux":0.48},{"wavelength":6100,"flux":0.47},{"wavelength":6155,"flux":0.46},{"wavelength":6160,"flux":0.36},{"wavelength":6180,"flux":0.38},{"wavelength":6200,"flux":0.36},{"wavelength":6245,"flux":0.38},{"wavelength":6280,"flux":0.45},{"wavelength":6300,"flux":0.55},{"wavelength":6335,"flux":0.58},{"wavelength":6380,"flux":0.6},{"wavelength":6420,"flux":0.62},{"wavelength":6462,"flux":0.65},{"wavelength":6500,"flux":0.68},{"wavelength":6516,"flux":0.7},{"wavelength":6543,"flux":0.75},{"wavelength":6555,"flux":1.5},{"wavelength":6560,"flux":4},{"wavelength":6563,"flux":5.67},{"wavelength":6566,"flux":4},{"wavelength":6570,"flux":1.2},{"wavelength":6580,"flux":0.7},{"wavelength":6600,"flux":0.65},{"wavelength":6624,"flux":0.6},{"wavelength":6660,"flux":0.55},{"wavelength":6697,"flux":0.53},{"wavelength":6740,"flux":0.55},{"wavelength":6780,"flux":0.54},{"wavelength":6823,"flux":0.55},{"wavelength":6850,"flux":0.5},{"wavelength":6869,"flux":0.45},{"wavelength":6880,"flux":0.4}
    ]
  },
  "vconcat": [
    {
      "width": 627, "height": 216,
      "layer": [
        {
          "data": {"name": "p1"},
          "mark": {"type": "line", "color": "black", "strokeWidth": 2, "clip": true},
          "encoding": {
            "x": {"field": "wavelength", "type": "quantitative", "scale": {"domain": [3500, 6900], "nice": false, "zero": false},
                  "axis": {"orient": "bottom", "values": [3500,3600,3700,3800,3900,4000,4100,4200,4300,4400,4500,4600,4700,4800,4900,5000,5100,5200,5300,5400,5500,5600,5700,5800,5900,6000,6100,6200,6300,6400,6500,6600,6700,6800], "tickSize": {"condition": {"test": "datum.value % 500 === 0", "value": -7}, "value": -4}, "labels": false, "title": null}},
            "y": {"field": "flux", "type": "quantitative", "scale": {"domain": [0, 10.8], "nice": false, "zero": false},
                  "axis": {"orient": "left", "values": [0.25,0.5,0.75,1,1.25,1.5,1.75,2,2.25,2.5,2.75,3,3.25,3.5,3.75,4,4.25,4.5,4.75,5,5.25,5.5,5.75,6,6.25,6.5,6.75,7,7.25,7.5,7.75,8,8.25,8.5,8.75,9,9.25,9.5,9.75,10,10.25,10.5,10.75], "tickSize": {"condition": {"test": "datum.value % 1 === 0", "value": -7}, "value": -4}, "labels": false, "title": "Relative Flux", "titlePadding": 15}}
          }
        },
        {
          "data": {"name": "p1e"},
          "mark": {"type": "line", "color": "#ff0000", "strokeWidth": 2, "strokeDash": [2, 4]},
          "encoding": {
            "x": {"field": "wavelength", "type": "quantitative", "scale": {"domain": [3500, 6900], "nice": false, "zero": false}, "axis": null},
            "y": {"field": "flux", "type": "quantitative", "scale": {"domain": [0, 10.8], "nice": false, "zero": false}, "axis": null}
          }
        },
        {
          "data": {"values": [{"wavelength": 3682, "flux": 9.59, "name": "UVQSJ011219.70-735126.0"}]},
          "mark": {"type": "text", "align": "left", "baseline": "alphabetic", "font": "Times New Roman, Liberation Serif, DejaVu Serif, serif", "fontSize": 22, "color": "#0000ff"},
          "encoding": {
            "x": {"field": "wavelength", "type": "quantitative", "scale": {"domain": [3500, 6900], "nice": false, "zero": false},
                  "axis": {"orient": "top", "values": [3500,3600,3700,3800,3900,4000,4100,4200,4300,4400,4500,4600,4700,4800,4900,5000,5100,5200,5300,5400,5500,5600,5700,5800,5900,6000,6100,6200,6300,6400,6500,6600,6700,6800], "tickSize": {"condition": {"test": "datum.value % 500 === 0", "value": -7}, "value": -4}, "labels": false, "title": null}},
            "y": {"field": "flux", "type": "quantitative", "scale": {"domain": [0, 10.8], "nice": false, "zero": false},
                  "axis": {"orient": "right", "values": [1,2,3,4,5,6,7,8,9,10], "tickSize": -7, "labels": false, "title": null}},
            "text": {"field": "name"}
          }
        }
      ],
      "resolve": {"axis": {"x": "independent", "y": "independent"}}
    },
    {
      "width": 627, "height": 216,
      "layer": [
        {
          "data": {"name": "p2"},
          "mark": {"type": "line", "color": "black", "strokeWidth": 2, "clip": true},
          "encoding": {
            "x": {"field": "wavelength", "type": "quantitative", "scale": {"domain": [3500, 6900], "nice": false, "zero": false},
                  "axis": {"orient": "bottom", "values": [3500,3600,3700,3800,3900,4000,4100,4200,4300,4400,4500,4600,4700,4800,4900,5000,5100,5200,5300,5400,5500,5600,5700,5800,5900,6000,6100,6200,6300,6400,6500,6600,6700,6800], "tickSize": {"condition": {"test": "datum.value % 500 === 0", "value": -7}, "value": -4}, "labels": false, "title": null}},
            "y": {"field": "flux", "type": "quantitative", "scale": {"domain": [-0.575, 9.2], "nice": false, "zero": false},
                  "axis": {"orient": "left", "values": [-0.5,-0.25,0,0.25,0.5,0.75,1,1.25,1.5,1.75,2,2.25,2.5,2.75,3,3.25,3.5,3.75,4,4.25,4.5,4.75,5,5.25,5.5,5.75,6,6.25,6.5,6.75,7,7.25,7.5,7.75,8,8.25,8.5,8.75,9], "tickSize": {"condition": {"test": "datum.value % 1 === 0", "value": -7}, "value": -4}, "labels": false, "title": "Relative Flux", "titlePadding": 15}}
          }
        },
        {
          "data": {"name": "p2e"},
          "mark": {"type": "line", "color": "#ff0000", "strokeWidth": 2, "strokeDash": [2, 4]},
          "encoding": {
            "x": {"field": "wavelength", "type": "quantitative", "scale": {"domain": [3500, 6900], "nice": false, "zero": false}, "axis": null},
            "y": {"field": "flux", "type": "quantitative", "scale": {"domain": [-0.575, 9.2], "nice": false, "zero": false}, "axis": null}
          }
        },
        {
          "data": {"values": [{"wavelength": 3682, "flux": 8.18, "name": "UVQSJ154144.91+645352.3"}]},
          "mark": {"type": "text", "align": "left", "baseline": "alphabetic", "font": "Times New Roman, Liberation Serif, DejaVu Serif, serif", "fontSize": 22, "color": "#0000ff"},
          "encoding": {
            "x": {"field": "wavelength", "type": "quantitative", "scale": {"domain": [3500, 6900], "nice": false, "zero": false},
                  "axis": {"orient": "top", "values": [3500,3600,3700,3800,3900,4000,4100,4200,4300,4400,4500,4600,4700,4800,4900,5000,5100,5200,5300,5400,5500,5600,5700,5800,5900,6000,6100,6200,6300,6400,6500,6600,6700,6800], "tickSize": {"condition": {"test": "datum.value % 500 === 0", "value": -7}, "value": -4}, "labels": false, "title": null}},
            "y": {"field": "flux", "type": "quantitative", "scale": {"domain": [-0.575, 9.2], "nice": false, "zero": false},
                  "axis": {"orient": "right", "values": [0,1,2,3,4,5,6,7,8,9], "tickSize": -7, "labels": false, "title": null}},
            "text": {"field": "name"}
          }
        }
      ],
      "resolve": {"axis": {"x": "independent", "y": "independent"}}
    },
    {
      "width": 627, "height": 216,
      "layer": [
        {
          "data": {"name": "p3"},
          "mark": {"type": "line", "color": "black", "strokeWidth": 1.6, "clip": true},
          "encoding": {
            "x": {"field": "wavelength", "type": "quantitative", "scale": {"domain": [3500, 6900], "nice": false, "zero": false},
                  "axis": {"orient": "bottom", "values": [3500,3600,3700,3800,3900,4000,4100,4200,4300,4400,4500,4600,4700,4800,4900,5000,5100,5200,5300,5400,5500,5600,5700,5800,5900,6000,6100,6200,6300,6400,6500,6600,6700,6800], "tickSize": {"condition": {"test": "datum.value % 500 === 0", "value": -7}, "value": -4}, "labels": false, "title": null}},
            "y": {"field": "flux", "type": "quantitative", "scale": {"domain": [0, 40], "nice": false, "zero": false},
                  "axis": {"orient": "left", "values": [0.5,1,1.5,2,2.5,3,3.5,4,4.5,5,5.5,6,6.5,7,7.5,8,8.5,9,9.5,10,10.5,11,11.5,12,12.5,13,13.5,14,14.5,15,15.5,16,16.5,17,17.5,18,18.5,19,19.5,20,20.5,21,21.5,22,22.5,23,23.5,24,24.5,25,25.5,26,26.5,27,27.5,28,28.5,29,29.5,30,30.5,31,31.5,32,32.5,33,33.5,34,34.5,35,35.5,36,36.5,37,37.5,38,38.5,39,39.5], "tickSize": {"condition": {"test": "datum.value % 1 === 0", "value": -7}, "value": -4}, "labels": false, "title": "Relative Flux", "titlePadding": 15}}
          }
        },
        {
          "data": {"values": [{"wavelength": 3682, "flux": 35.7, "name": "UVQSJ192210.62-313038.8"}]},
          "mark": {"type": "text", "align": "left", "baseline": "alphabetic", "font": "Times New Roman, Liberation Serif, DejaVu Serif, serif", "fontSize": 22, "color": "#0000ff"},
          "encoding": {
            "x": {"field": "wavelength", "type": "quantitative", "scale": {"domain": [3500, 6900], "nice": false, "zero": false},
                  "axis": {"orient": "top", "values": [3500,3600,3700,3800,3900,4000,4100,4200,4300,4400,4500,4600,4700,4800,4900,5000,5100,5200,5300,5400,5500,5600,5700,5800,5900,6000,6100,6200,6300,6400,6500,6600,6700,6800], "tickSize": {"condition": {"test": "datum.value % 500 === 0", "value": -7}, "value": -4}, "labels": false, "title": null}},
            "y": {"field": "flux", "type": "quantitative", "scale": {"domain": [0, 40], "nice": false, "zero": false},
                  "axis": {"orient": "right", "values": [1,2,3,4,5,6,7,8,9,10,11,12,13,14,15,16,17,18,19,20,21,22,23,24,25,26,27,28,29,30,31,32,33,34,35,36,37,38,39], "tickSize": -7, "labels": false, "title": null}},
            "text": {"field": "name"}
          }
        }
      ],
      "resolve": {"axis": {"x": "independent", "y": "independent"}}
    },
    {
      "width": 627, "height": 216,
      "layer": [
        {
          "data": {"name": "p4"},
          "mark": {"type": "line", "color": "black", "strokeWidth": 1.6, "clip": true},
          "encoding": {
            "x": {"field": "wavelength", "type": "quantitative", "scale": {"domain": [3500, 6900], "nice": false, "zero": false},
                  "axis": {"orient": "bottom", "values": [3500,3600,3700,3800,3900,4000,4100,4200,4300,4400,4500,4600,4700,4800,4900,5000,5100,5200,5300,5400,5500,5600,5700,5800,5900,6000,6100,6200,6300,6400,6500,6600,6700,6800], "tickSize": {"condition": {"test": "datum.value % 500 === 0", "value": -7}, "value": -4}, "format": "d", "labelExpr": "datum.value % 500 === 0 ? datum.label : ''", "labelPadding": 3, "title": "Wavelength(Å)", "titlePadding": 18}},
            "y": {"field": "flux", "type": "quantitative", "scale": {"domain": [0, 6.467], "nice": false, "zero": false},
                  "axis": {"orient": "left", "values": [0.2,0.4,0.6,0.8,1,1.2,1.4,1.6,1.8,2,2.2,2.4,2.6,2.8,3,3.2,3.4,3.6,3.8,4,4.2,4.4,4.6,4.8,5,5.2,5.4,5.6,5.8,6,6.2,6.4], "tickSize": {"condition": {"test": "datum.value % 1 === 0", "value": -7}, "value": -4}, "labels": false, "title": "Relative Flux", "titlePadding": 15}}
          }
        },
        {
          "data": {"values": [{"wavelength": 3682, "flux": 5.76, "name": "UVQSJ043243.03+255230.8"}]},
          "mark": {"type": "text", "align": "left", "baseline": "alphabetic", "font": "Times New Roman, Liberation Serif, DejaVu Serif, serif", "fontSize": 22, "color": "#0000ff"},
          "encoding": {
            "x": {"field": "wavelength", "type": "quantitative", "scale": {"domain": [3500, 6900], "nice": false, "zero": false},
                  "axis": {"orient": "top", "values": [3500,3600,3700,3800,3900,4000,4100,4200,4300,4400,4500,4600,4700,4800,4900,5000,5100,5200,5300,5400,5500,5600,5700,5800,5900,6000,6100,6200,6300,6400,6500,6600,6700,6800], "tickSize": {"condition": {"test": "datum.value % 500 === 0", "value": -7}, "value": -4}, "labels": false, "title": null}},
            "y": {"field": "flux", "type": "quantitative", "scale": {"domain": [0, 6.467], "nice": false, "zero": false},
                  "axis": {"orient": "right", "values": [1,2,3,4,5,6], "tickSize": -7, "labels": false, "title": null}},
            "text": {"field": "name"}
          }
        }
      ],
      "resolve": {"axis": {"x": "independent", "y": "independent"}}
    }
  ]
}
